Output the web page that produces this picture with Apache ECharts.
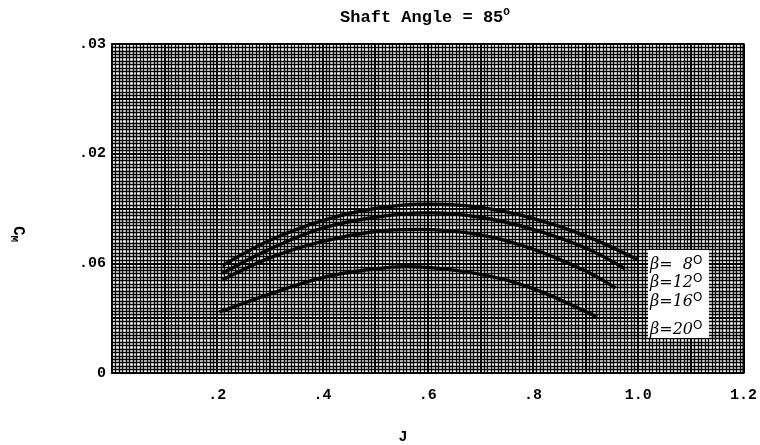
<!DOCTYPE html>
<html>
<head>
<meta charset="utf-8">
<script src="https://cdn.jsdelivr.net/npm/echarts@6/dist/echarts.min.js"></script>
<style>
html,body{margin:0;padding:0;background:#fff;}
#chart{width:760px;height:445px;}
</style>
</head>
<body>
<div id="chart"></div>
<script>
// ---- data ----
var titleText = 'Shaft Angle = 85';
var xName = 'J';
var yName = 'C';
var yNameSub = 'M';

var xTicks = [0.2, 0.4, 0.6, 0.8, 1.0, 1.2];
var xTickLabels = ['.2', '.4', '.6', '.8', '1.0', '1.2'];
var yTicks = [0, 0.01, 0.02, 0.03];
var yTickLabels = ['0', '.06', '.02', '.03'];

var seriesNames = ['\u03b2=  8', '\u03b2=12', '\u03b2=16', '\u03b2=20'];

var beta8J  = [0.21, 0.30, 0.40, 0.50, 0.60, 0.70, 0.80, 0.90, 1.00];
var beta8C  = [0.0098, 0.0121, 0.0139, 0.0150, 0.0154, 0.0151, 0.0141, 0.0125, 0.0103];
var beta12J = [0.21, 0.30, 0.40, 0.50, 0.60, 0.70, 0.80, 0.90, 0.975];
var beta12C = [0.0091, 0.0113, 0.0132, 0.0142, 0.0146, 0.0142, 0.0131, 0.0114, 0.0095];
var beta16J = [0.21, 0.30, 0.40, 0.50, 0.58, 0.70, 0.80, 0.90, 0.957];
var beta16C = [0.0085, 0.0105, 0.0120, 0.0129, 0.0131, 0.0126, 0.0113, 0.0093, 0.00775];
var beta20J = [0.204, 0.30, 0.40, 0.50, 0.56, 0.70, 0.80, 0.922];
var beta20C = [0.00556, 0.0072, 0.0087, 0.0095, 0.0097, 0.0090, 0.0077, 0.0051];

function pairs(xs, ys) { return xs.map(function (x, i) { return [x, ys[i]]; }); }
function lookup(v, ticks, labels) {
  for (var i = 0; i < ticks.length; i++) if (Math.abs(v - ticks[i]) < 1e-9) return labels[i];
  return '';
}

var mono = '"Liberation Mono", "DejaVu Sans Mono", monospace';
var chart = echarts.init(document.getElementById('chart'), null, {renderer: 'canvas'});

var data = [pairs(beta8J, beta8C), pairs(beta12J, beta12C), pairs(beta16J, beta16C), pairs(beta20J, beta20C)];

chart.setOption({
  animation: false,
  backgroundColor: '#fff',
  grid: {left: 112, right: 13, top: 44, bottom: 72, show: true, borderColor: '#000', borderWidth: 2, backgroundColor: '#fff'},
  xAxis: {
    type: 'value', min: 0, max: 1.2, interval: 0.1,
    axisLine: {show: false}, axisTick: {show: false},
    axisLabel: {
      margin: 15, color: '#000', fontFamily: mono, fontWeight: 'bold', fontSize: 15,
      formatter: function (v) { return lookup(v, xTicks, xTickLabels); }
    },
    splitLine: {show: true, lineStyle: {color: '#000', width: 2}},
    minorTick: {show: false, splitNumber: 15},
    minorSplitLine: {show: true, lineStyle: {color: '#000', width: 1.3}}
  },
  yAxis: {
    type: 'value', min: 0, max: 0.03, interval: 0.005,
    axisLine: {show: false}, axisTick: {show: false},
    axisLabel: {
      margin: 6, color: '#000', fontFamily: mono, fontWeight: 'bold', fontSize: 15,
      formatter: function (v) { return lookup(v, yTicks, yTickLabels); }
    },
    splitLine: {show: true, lineStyle: {color: '#000', width: 2}},
    minorTick: {show: false, splitNumber: 16},
    minorSplitLine: {show: true, lineStyle: {color: '#000', width: 1.3}}
  },
  series: data.map(function (d, i) {
    return {
      name: seriesNames[i], type: 'line', data: d, smooth: 0.35, showSymbol: false, symbol: 'none',
      lineStyle: {color: '#000', width: 3.4}, z: 5
    };
  }),
  graphic: [
    {
      type: 'text', x: 425, y: 18,
      style: {
        text: '{t|' + titleText + '}{s|O}', textAlign: 'center', textVerticalAlign: 'middle',
        rich: {
          t: {fontFamily: mono, fontWeight: 'bold', fontSize: 17, fill: '#000', lineHeight: 22},
          s: {fontFamily: mono, fontWeight: 'bold', fontSize: 11, fill: '#000', verticalAlign: 'top', lineHeight: 22, padding: [0, 0, 8, 0]}
        }
      }
    },
    {
      type: 'text', x: 403, y: 437,
      style: {text: xName, font: 'bold 15px ' + mono, fill: '#000', textAlign: 'center', textVerticalAlign: 'middle'}
    },
    {
      type: 'text', x: 18, y: 234, rotation: -Math.PI / 2,
      style: {
        text: '{c|' + yName + '}{m|' + yNameSub + '}', textAlign: 'center', textVerticalAlign: 'middle',
        rich: {
          c: {fontFamily: mono, fontWeight: 'bold', fontSize: 16, fill: '#000', lineHeight: 20},
          m: {fontFamily: mono, fontWeight: 'bold', fontSize: 11, fill: '#000', lineHeight: 20, verticalAlign: 'bottom'}
        }
      }
    },
    {
      type: 'rect', shape: {x: 648, y: 250, width: 61, height: 88}, style: {fill: '#fff'}, z: 10
    },
    {
      type: 'group', z: 11,
      children: seriesNames.map(function (n, i) {
        var ys = [265, 283, 302, 330];
        return {
          type: 'text', x: 650, y: ys[i], z: 11,
          style: {
            text: '{b|' + n + '}{s|O}', textVerticalAlign: 'middle',
            rich: {
              b: {fontFamily: '"DejaVu Serif", serif', fontStyle: 'italic', fontSize: 16, fill: '#000', lineHeight: 20},
              s: {fontFamily: '"DejaVu Sans", sans-serif', fontSize: 12, fill: '#000', lineHeight: 20, verticalAlign: 'top', padding: [0, 0, 6, 0]}
            }
          }
        };
      })
    }
  ]
});
</script>
</body>
</html>
